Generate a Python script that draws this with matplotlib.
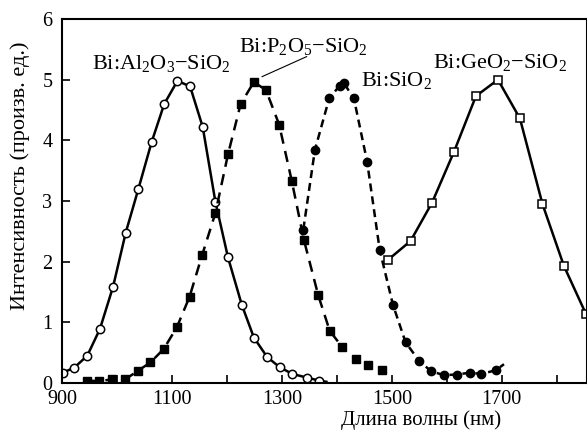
import numpy as np
import matplotlib
matplotlib.use('Agg')
import matplotlib.pyplot as plt

plt.rcParams['font.family'] = ['Liberation Serif', 'DejaVu Serif']
plt.rcParams['mathtext.fontset'] = 'custom'
plt.rcParams['mathtext.rm'] = 'Liberation Serif'
plt.rcParams['mathtext.it'] = 'Liberation Serif:italic'

# Bi:Al2O3-SiO2 (open circles, solid)
al_x = [901, 922, 946, 969, 993, 1016, 1039, 1063, 1086, 1110, 1133, 1156,
        1179, 1202, 1227, 1249, 1273, 1296, 1319, 1345, 1368]
al_y = [0.17, 0.25, 0.45, 0.89, 1.59, 2.48, 3.20, 3.97, 4.60, 4.98, 4.89,
        4.22, 2.99, 2.07, 1.29, 0.75, 0.43, 0.26, 0.15, 0.09, 0.04]
al_end = (1381, 0.02)

# Bi:P2O5-SiO2 (filled squares, dashed)
p_x = [945, 968, 991, 1015, 1038, 1061, 1085, 1109, 1132, 1155, 1179, 1202,
       1225, 1249, 1271, 1295, 1318, 1340, 1366, 1387, 1410, 1435, 1457, 1482]
p_y = [0.04, 0.03, 0.06, 0.06, 0.20, 0.34, 0.56, 0.92, 1.42, 2.11, 2.80,
       3.77, 4.60, 4.96, 4.83, 4.26, 3.33, 2.36, 1.45, 0.86, 0.59, 0.40,
       0.30, 0.21]
p_line_n = 21  # dashed curve only runs through the first points

# Bi:SiO2 (filled circles, short dashes)
si_x = [1339, 1360, 1386, 1405, 1413, 1431, 1455, 1478, 1502, 1525, 1550,
        1572, 1595, 1618, 1642, 1663, 1689]
si_y = [2.53, 3.84, 4.69, 4.90, 4.94, 4.69, 3.65, 2.19, 1.29, 0.67, 0.36,
        0.19, 0.13, 0.14, 0.17, 0.15, 0.21]
si_end = (1704, 0.31)

# Bi:GeO2-SiO2 (open squares, solid)
ge_x = [1493, 1534, 1573, 1613, 1653, 1693, 1733, 1774, 1813, 1853]
ge_y = [2.03, 2.34, 2.97, 3.81, 4.73, 5.00, 4.36, 2.95, 1.93, 1.14]

xticks = [900, 1000, 1100, 1200, 1300, 1400, 1500, 1600, 1700, 1800]
xticklabels = ['900', '', '1100', '', '1300', '', '1500', '', '1700', '']

fig = plt.figure(figsize=(5.87, 4.30), dpi=100)
ax = fig.add_axes([0.1056, 0.1093, 0.8944, 0.8465])

lw = 1.8
ms = 6
ax.plot(al_x + [al_end[0]], al_y + [al_end[1]], '-', color='k', lw=lw)
ax.plot(al_x, al_y, 'o', color='k', mfc='white', ms=ms, mew=1.1)

ax.plot(p_x[:p_line_n], p_y[:p_line_n], '--', color='k', lw=lw,
        dashes=(4.5, 3))
ax.plot(p_x, p_y, 's', color='k', ms=ms)

ax.plot(si_x + [si_end[0]], si_y + [si_end[1]], '--', color='k', lw=lw,
        dashes=(3.2, 2))
ax.plot(si_x, si_y, 'o', color='k', ms=ms)

ax.plot(ge_x, ge_y, '-', color='k', lw=lw)
ax.plot(ge_x, ge_y, 's', color='k', mfc='white', ms=ms, mew=1.1)

fs = 14.5
afs = 16
ax.text(1080, 5.27, 'Bi:Al$_2$O$_3$$-$SiO$_2$', ha='center', va='center',
        fontsize=afs)
ax.text(1340, 5.55, 'Bi:P$_2$O$_5$$-$SiO$_2$', ha='center', va='center',
        fontsize=afs)
ax.plot([1345, 1264], [5.38, 5.05], '-', color='k', lw=0.8)
ax.text(1508, 4.99, 'Bi:SiO$_2$', ha='center', va='center', fontsize=afs)
ax.text(1697, 5.28, 'Bi:GeO$_2$$-$SiO$_2$', ha='center', va='center',
        fontsize=afs)

ax.set_xlim(900, 1855)
ax.set_ylim(0, 6)
ax.set_xticks(xticks)
ax.set_xticklabels(xticklabels)
ax.set_yticks(range(7))
ax.tick_params(direction='in', length=6, width=1.2, labelsize=fs)
ax.tick_params(axis='x', pad=5)
ax.tick_params(axis='y', pad=7)
for s in ax.spines.values():
    s.set_linewidth(1.5)

ax.set_xlabel('Длина волны (нм)', fontsize=15)
ax.xaxis.set_label_coords(0.684, -0.076)
ax.set_ylabel('Интенсивность (произв. ед.)', fontsize=16)
ax.yaxis.set_label_coords(-0.06, 0.57)

fig.savefig('out.png', dpi=100)
